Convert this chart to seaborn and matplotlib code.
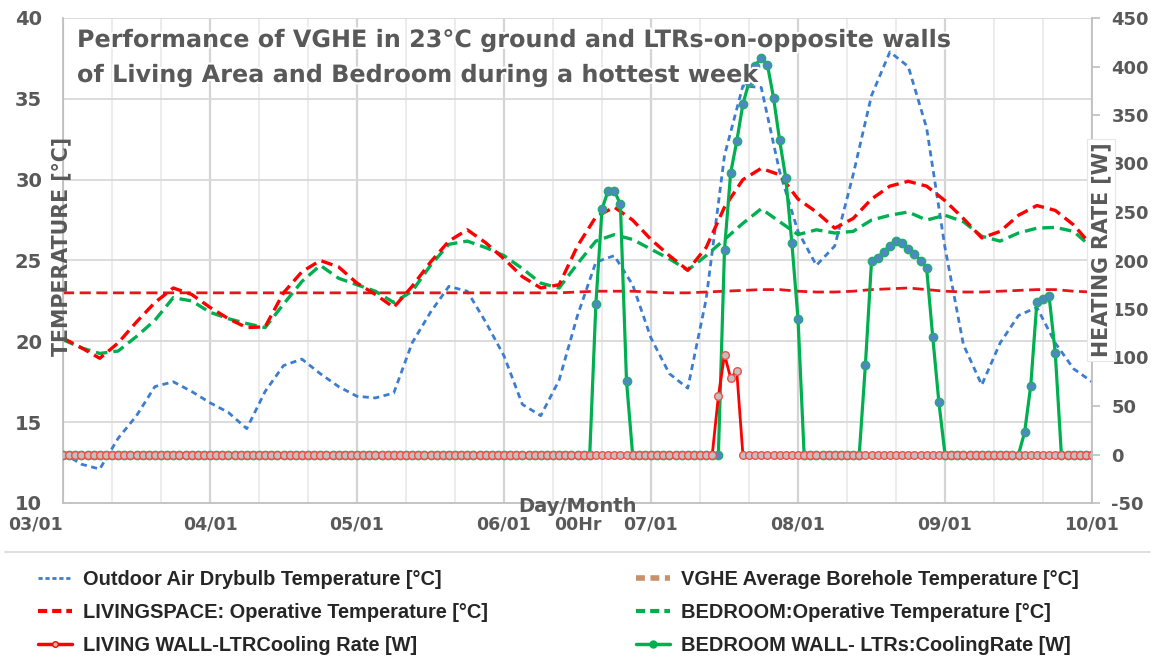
import numpy as np
import pandas as pd
import matplotlib
matplotlib.use('Agg')
import matplotlib.pyplot as plt
import matplotlib.patheffects as pe
from matplotlib.lines import Line2D
import seaborn as sns

# 3-hourly temperatures [C], 03/01 00:00 -> 10/01 00:00
outdoor_temp = [13.1, 12.4, 12.1, 14.0, 15.4, 17.2, 17.5, 16.9, 16.2, 15.6, 14.6, 16.9, 18.5, 18.9,
                18.0, 17.2, 16.6, 16.5, 16.8, 19.9, 21.8, 23.4, 23.1, 21.2, 19.1, 16.1, 15.4, 17.6,
                21.6, 24.9, 25.3, 23.5, 20.2, 18.0, 17.1, 22.6, 31.5, 35.8, 35.7, 30.5, 26.8, 24.7,
                25.9, 30.3, 35.2, 37.9, 37.0, 33.2, 25.8, 19.8, 17.3, 19.9, 21.6, 22.1, 19.9, 18.3,
                17.5]
living_temp = [20.2, 19.6, 18.95, 19.9, 21.2, 22.4, 23.3, 22.9, 22.1, 21.4, 20.85, 20.9, 23.0, 24.3,
               25.0, 24.6, 23.6, 22.9, 22.1, 23.4, 24.9, 26.2, 26.9, 26.1, 25.1, 24.0, 23.3, 23.5,
               25.9, 27.7, 28.3, 27.5, 26.3, 25.3, 24.4, 25.8, 28.3, 30.0, 30.7, 30.3, 28.8, 28.0,
               27.0, 27.6, 28.8, 29.6, 29.9, 29.6, 28.7, 27.6, 26.4, 26.8, 27.8, 28.4, 28.1, 27.2,
               25.9]
bedroom_temp = [20.1, 19.6, 19.25, 19.4, 20.3, 21.3, 22.7, 22.5, 21.8, 21.4, 21.1, 20.85, 22.3, 23.7,
                24.7, 23.9, 23.5, 23.1, 22.4, 23.1, 24.7, 26.0, 26.2, 25.8, 25.3, 24.5, 23.6, 23.3,
                24.8, 26.2, 26.6, 26.3, 25.7, 25.1, 24.4, 25.3, 26.3, 27.3, 28.2, 27.4, 26.6, 26.9,
                26.7, 26.8, 27.5, 27.8, 28.0, 27.5, 27.8, 27.4, 26.5, 26.2, 26.7, 27.0, 27.05, 26.8,
                25.8]
borehole_temp = [23.0] * 28 + [23.05, 23.1, 23.1, 23.1, 23.05, 23.0, 23.0, 23.05, 23.1, 23.15, 23.2,
                               23.2, 23.1, 23.05, 23.05, 23.1, 23.2, 23.25, 23.3, 23.2, 23.1, 23.05,
                               23.05, 23.1, 23.15, 23.2, 23.2, 23.1, 23.05]

# hourly cooling rates [W]; hours not listed are 0
living_cool_hours = [107, 108, 109, 110]
living_cool_vals = [60, 103, 79, 86]
bedroom_cool_hours = [87, 88, 89, 90, 91, 92,
                      108, 109, 110, 111, 112, 113, 114, 115, 116, 117, 118, 119, 120,
                      131, 132, 133, 134, 135, 136, 137, 138, 139, 140, 141, 142, 143,
                      157, 158, 159, 160, 161, 162]
bedroom_cool_vals = [155, 253, 272, 272, 258, 76,
                     211, 290, 323, 361, 384, 401, 409, 402, 368, 324, 285, 218, 140,
                     92, 199, 203, 209, 215, 220, 218, 212, 207, 200, 192, 121, 54,
                     23, 71, 157, 160, 163, 105]

day_labels = ['03/01', '04/01', '05/01', '06/01', '07/01', '08/01', '09/01', '10/01']

temps = pd.DataFrame({
    'day': np.arange(len(outdoor_temp)) * 3 / 24,
    'outdoor': outdoor_temp, 'living': living_temp,
    'bedroom': bedroom_temp, 'borehole': borehole_temp,
})
hours = np.arange(7 * 24 + 1)
cool = pd.DataFrame({'day': hours / 24, 'living': 0.0, 'bedroom': 0.0})
cool.loc[living_cool_hours, 'living'] = living_cool_vals
cool.loc[bedroom_cool_hours, 'bedroom'] = bedroom_cool_vals

sns.set_theme(style='white')
plt.rcParams['font.family'] = ['DejaVu Sans']
plt.rcParams['font.weight'] = 'bold'
plt.rcParams['axes.unicode_minus'] = False

GREY = '#595959'
BLUE = '#3C7DD0'
RED = '#FF0000'
GREEN = '#00B050'

W, H = 1161, 661
fig = plt.figure(figsize=(W / 100, H / 100), dpi=100)
ax = fig.add_axes([63 / W, 1 - 503 / H, (1092 - 63) / W, (503 - 18) / H])

# gridlines
for d in np.arange(0, 7.01, 1 / 3):
    major = abs(d - round(d)) < 1e-6
    ax.axvline(d, color='#D4D4D4' if major else '#EAEAEA', lw=1.6 if major else 1.3, zorder=0)
for t in range(15, 41, 5):
    ax.axhline(t, color='#D9D9D9', lw=1.3, zorder=0)

sns.lineplot(data=temps, x='day', y='outdoor', ax=ax, color=BLUE, lw=2.0,
             linestyle=(0, (2.2, 1.6)))
sns.lineplot(data=temps, x='day', y='borehole', ax=ax, color='#E8141C', lw=2.0,
             linestyle=(0, (4, 2)))
sns.lineplot(data=temps, x='day', y='bedroom', ax=ax, color=GREEN, lw=2.4,
             linestyle=(0, (3.5, 1.8)))
sns.lineplot(data=temps, x='day', y='living', ax=ax, color=RED, lw=2.4,
             linestyle=(0, (3.5, 1.8)))

ax.set_xlim(0, 7)
ax.set_ylim(10, 40)
ax.set_yticks(range(10, 41, 5))
ax.set_xticks(list(range(8)) + [3.5])
ax.set_xticklabels(day_labels + ['00Hr'])
ax.get_xticklabels()[0].set_ha('right')
ax.set_xlabel('')
ax.set_ylabel('')
ax.tick_params(axis='y', length=0, pad=15, labelsize=14, labelcolor=GREY)
ax.tick_params(axis='x', length=0, pad=9, labelsize=12.5, labelcolor=GREY)
for s in ['top', 'right']:
    ax.spines[s].set_visible(False)
for s in ['left', 'bottom']:
    ax.spines[s].set_color('#BFBFBF')
    ax.spines[s].set_linewidth(1.3)

ax2 = ax.twinx()
sns.lineplot(data=cool, x='day', y='bedroom', ax=ax2, color=GREEN, lw=2.3, marker='o',
             markersize=6, markerfacecolor='#4F86C6', markeredgecolor='#1FAF6A',
             markeredgewidth=1.0)
sns.lineplot(data=cool, x='day', y='living', ax=ax2, color=RED, lw=2.0, marker='o',
             markersize=5.5, markerfacecolor='#C0C0C0', markeredgecolor='#F0504A',
             markeredgewidth=1.0)
ax2.set_ylim(-50, 450)
ax2.set_yticks(range(-50, 451, 50))
ax2.set_xlim(0, 7)
ax2.set_ylabel('')
ax2.tick_params(axis='y', length=6, width=1.2, color='#BFBFBF', pad=8, labelsize=13,
                labelcolor=GREY)
ax2.grid(False)
for s in ['top', 'left', 'bottom']:
    ax2.spines[s].set_visible(False)
ax2.spines['right'].set_color('#BFBFBF')
ax2.spines['right'].set_linewidth(1.3)

# titles and labels
glow = [pe.withStroke(linewidth=3, foreground='white')]
fig.text(77 / W, 1 - 40 / H, 'Performance of VGHE in 23°C ground and LTRs-on-opposite walls',
         fontsize=17.2, color=GREY, va='center', ha='left', path_effects=glow)
fig.text(77 / W, 1 - 75 / H, 'of Living Area and Bedroom during a hottest week',
         fontsize=17.2, color=GREY, va='center', ha='left', path_effects=glow)
fig.text(61 / W, 1 - 246 / H, 'TEMPERATURE [°C]', rotation=90, fontsize=14.8, color=GREY,
         ha='center', va='center')
fig.text(1101 / W, 1 - 250 / H, 'HEATING RATE [W]', rotation=90, fontsize=14.8, color=GREY,
         ha='center', va='center',
         bbox=dict(facecolor='white', edgecolor='#E6E6E6', pad=3, lw=0.8))
fig.text(577 / W, 1 - 506 / H, 'Day/Month', fontsize=14, color=GREY, ha='center', va='center')

# legend
fig.add_artist(Line2D([5 / W, 1150 / W], [1 - 552 / H, 1 - 552 / H], color='#D9D9D9', lw=1.2,
                      transform=fig.transFigure))
left_handles = [
    Line2D([], [], color=BLUE, lw=2, linestyle=(0, (1.5, 1))),
    Line2D([], [], color=RED, lw=3, linestyle=(0, (2.2, 1.2))),
    Line2D([], [], color=RED, lw=2.5, marker='o', markersize=4, markerfacecolor='#C0C0C0',
           markeredgecolor=RED),
]
left_labels = ['Outdoor Air Drybulb Temperature [°C]',
               'LIVINGSPACE: Operative Temperature [°C]',
               'LIVING WALL-LTRCooling Rate [W]']
right_handles = [
    Line2D([], [], color='#C9916B', lw=4, linestyle=(0, (1.6, 1))),
    Line2D([], [], color=GREEN, lw=3, linestyle=(0, (2.2, 1.2))),
    Line2D([], [], color=GREEN, lw=2.5, marker='o', markersize=5, markerfacecolor=GREEN,
           markeredgecolor=GREEN),
]
right_labels = ['VGHE Average Borehole Temperature [°C]',
                'BEDROOM:Operative Temperature [°C]',
                'BEDROOM WALL- LTRs:CoolingRate [W]']
leg_kw = dict(loc='upper left', frameon=False, ncol=1, handlelength=1.7, handletextpad=0.55,
              labelspacing=0.7,
              prop={'family': ['Liberation Sans', 'DejaVu Sans'], 'size': 14.4,
                    'weight': 'bold'})
fig.legend(left_handles, left_labels, bbox_to_anchor=(20 / W, 1 - 552 / H), **leg_kw)
fig.legend(right_handles, right_labels, bbox_to_anchor=(618 / W, 1 - 552 / H), **leg_kw)

fig.savefig('out.png', dpi=100, facecolor='white')
